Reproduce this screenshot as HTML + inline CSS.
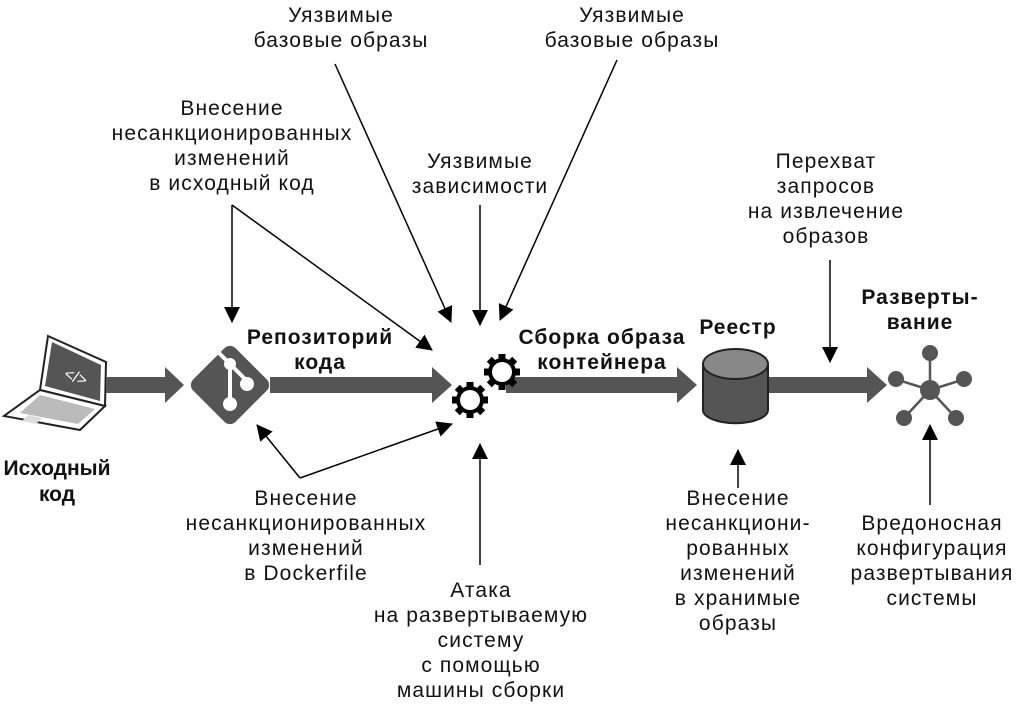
<!DOCTYPE html>
<html><head><meta charset="utf-8"><style>
body{margin:0;background:#fff}
svg text{font-family:"Liberation Sans","DejaVu Sans",sans-serif;font-size:21px;letter-spacing:1.1px;fill:#111;text-anchor:middle}
svg text.b{font-weight:bold;font-size:21px;letter-spacing:1px}
svg text.b2{font-weight:bold;font-size:21px;letter-spacing:0}
</style></head><body>
<svg width="1017" height="707" viewBox="0 0 1017 707" xmlns="http://www.w3.org/2000/svg">
<defs>
<marker id="ah2" markerWidth="16" markerHeight="16" refX="15" refY="8" orient="auto" markerUnits="userSpaceOnUse" viewBox="0 0 16 16">
<path d="M0,0 L16,8 L0,16 z" fill="#000"/></marker>
<g id="gear">
<circle r="14" fill="#000"/>
<g fill="#000">
<rect x="-3.5" y="-18" width="7" height="36"/>
<rect x="-3.5" y="-18" width="7" height="36" transform="rotate(45)"/>
<rect x="-3.5" y="-18" width="7" height="36" transform="rotate(90)"/>
<rect x="-3.5" y="-18" width="7" height="36" transform="rotate(135)"/>
</g>
<circle r="10" fill="#fff"/>
</g>
</defs>

<!-- laptop -->
<polygon points="48,336 106,362 105,406 40,390" fill="#fff" stroke="#222" stroke-width="2"/>
<polygon points="52,342 101,365 100,401 45,386" fill="#555"/>
<text x="74" y="382" style="fill:#fff;font-size:16px;letter-spacing:0" transform="rotate(20 74 382)">&lt;/&gt;</text>
<polygon points="40,390 105,406 80,430 4,416" fill="#fff" stroke="#222" stroke-width="2"/>
<polygon points="40,395 95,409 78,424 20,413" fill="#bbb"/>
<polygon points="28,415 42,418 36,424 22,421" fill="#ddd"/>

<!-- thick arrows -->
<g fill="#555">
<polygon points="106,377 165,377 165,367 184,385 165,403 165,393 106,393"/>
<polygon points="270,377 432,377 432,367 452,385 432,403 432,393 270,393"/>
<polygon points="506,377 677,377 677,367 697,385 677,403 677,393 506,393"/>
<polygon points="768,377 867,377 867,367 887,385 867,403 867,393 768,393"/>
</g>

<!-- git diamond -->
<rect x="200" y="355" width="60" height="60" rx="8" fill="#555" transform="rotate(45 230 385)"/>
<g stroke="#fff" stroke-width="4" fill="none">
<line x1="218" y1="352" x2="230" y2="364"/><line x1="230" y1="364" x2="230" y2="402"/><line x1="230" y1="364" x2="246" y2="380"/>
</g>
<g fill="#fff"><circle cx="230" cy="364" r="6"/><circle cx="230" cy="404" r="7"/><circle cx="247" cy="384" r="7"/></g>

<!-- gears -->
<use href="#gear" x="470" y="400"/>
<use href="#gear" x="502" y="372"/>

<!-- cylinder -->
<path d="M703,366 L703,410 A32,13 0 0 0 768,410 L768,366 Z" fill="#555" stroke="#222" stroke-width="2"/>
<ellipse cx="735.5" cy="364" rx="32.5" ry="15" fill="#888" stroke="#222" stroke-width="2"/>

<!-- network -->
<g stroke="#555" stroke-width="2.5">
<line x1="930" y1="390" x2="930" y2="353"/><line x1="930" y1="390" x2="895" y2="379"/><line x1="930" y1="390" x2="965" y2="379"/>
<line x1="930" y1="390" x2="904" y2="418"/><line x1="930" y1="390" x2="956" y2="418"/>
</g>
<g fill="#555"><circle cx="930" cy="390" r="10"/><circle cx="930" cy="353" r="8"/><circle cx="896" cy="379" r="8"/>
<circle cx="964" cy="379" r="8"/><circle cx="904" cy="418" r="8"/><circle cx="956" cy="418" r="8"/></g>

<!-- thin arrows -->
<g stroke="#000" stroke-width="1.5" fill="none" marker-end="url(#ah2)">
<line x1="335" y1="64" x2="451" y2="322"/>
<line x1="617" y1="60" x2="500" y2="320"/>
<line x1="480" y1="205" x2="480" y2="325"/>
<line x1="232" y1="205" x2="232" y2="322"/>
<line x1="232" y1="205" x2="432" y2="350"/>
<line x1="300" y1="478" x2="257" y2="425"/>
<line x1="300" y1="478" x2="452" y2="424"/>
<line x1="480" y1="565" x2="480" y2="444"/>
<line x1="830" y1="260" x2="830" y2="362"/>
<line x1="738" y1="488" x2="738" y2="450"/>
<line x1="930" y1="505" x2="930" y2="425"/>
</g>

<!-- labels -->
<text x="341" y="22">Уязвимые</text><text x="341" y="47">базовые образы</text>
<text x="632" y="22">Уязвимые</text><text x="632" y="47">базовые образы</text>
<text x="232" y="115">Внесение</text><text x="232" y="140">несанкционированных</text><text x="232" y="165">изменений</text><text x="232" y="190">в исходный код</text>
<text x="480" y="168">Уязвимые</text><text x="480" y="193">зависимости</text>
<text x="826" y="168">Перехват</text><text x="826" y="193">запросов</text><text x="826" y="218">на извлечение</text><text x="826" y="243">образов</text>
<text class="b" x="320" y="344">Репозиторий</text><text class="b" x="320" y="369">кода</text>
<text class="b" x="602" y="344">Сборка образа</text><text class="b" x="602" y="369">контейнера</text>
<text class="b" x="738" y="334">Реестр</text>
<text class="b" x="920" y="304">Разверты-</text><text class="b" x="920" y="329">вание</text>
<text class="b2" x="57" y="475">Исходный</text><text class="b2" x="57" y="501">код</text>
<text x="306" y="505">Внесение</text><text x="306" y="530">несанкционированных</text><text x="306" y="555">изменений</text><text x="306" y="580">в Dockerfile</text>
<text x="481" y="597">Атака</text><text x="481" y="622">на развертываемую</text><text x="481" y="647">систему</text><text x="481" y="672">с помощью</text><text x="481" y="697">машины сборки</text>
<text x="738" y="505">Внесение</text><text x="738" y="530">несанкциони-</text><text x="738" y="555">рованных</text><text x="738" y="580">изменений</text><text x="738" y="605">в хранимые</text><text x="738" y="630">образы</text>
<text x="932" y="530">Вредоносная</text><text x="932" y="555">конфигурация</text><text x="932" y="580">развертывания</text><text x="932" y="605">системы</text>
</svg>
</body></html>
